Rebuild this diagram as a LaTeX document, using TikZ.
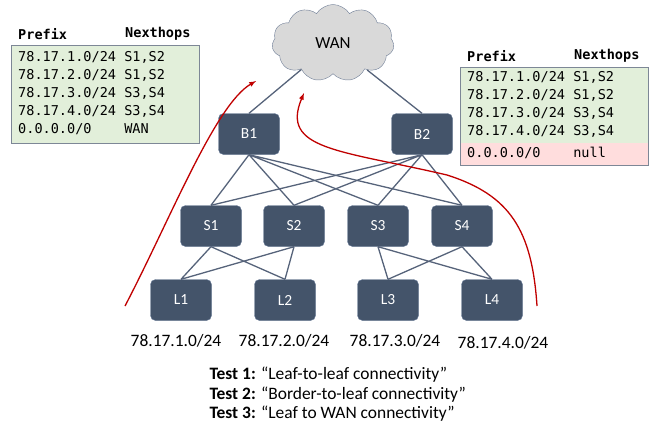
\documentclass[tikz,border=0pt]{standalone}
\usepackage{xcolor}
\usepackage{fontspec}
\usepackage{tikz}
\usetikzlibrary{shapes, arrows, fit, positioning}
\setmainfont{Carlito}
\newfontfamily\tabmono{DejaVu Sans Mono}
\definecolor{boxblue}{RGB}{68,84,106}
\definecolor{boxedge}{RGB}{96,116,146}
\definecolor{linkgray}{RGB}{86,99,122}
\definecolor{tabgreen}{RGB}{226,239,218}
\definecolor{tabred}{RGB}{255,221,221}
\definecolor{tabedge}{RGB}{125,135,150}
\definecolor{cloudgray}{RGB}{217,217,217}
\definecolor{cloudedge}{RGB}{110,125,150}
\definecolor{pathred}{RGB}{192,0,0}
\newcommand{\routes}[1]{\begin{tabular}{@{}l@{\hskip 8.2bp}l@{}}#1\end{tabular}}

\begin{document}
\begin{tikzpicture}[x=1bp, y=-1bp,
  sw/.style={draw=boxedge, fill=boxblue, rounded corners=5bp, minimum width=61bp, minimum height=41bp, text=white, font=\fontsize{15.5}{18}\selectfont},
  link/.style={linkgray, line width=1.3bp},
  flow/.style={pathred, line width=1.3bp, -latex},
  tbl/.style={fill=tabgreen, anchor=north west, text width=174bp, align=left, inner xsep=7bp, font=\tabmono\fontsize{13.6}{18}\selectfont},
  hdr/.style={anchor=west, inner sep=0pt, font=\tabmono\bfseries\fontsize{13.6}{18}\selectfont},
  pfx/.style={font=\fontsize{17.5}{20}\selectfont}]
\useasboundingbox (0,0) rectangle (651,429);

%% WAN and border switches
\node[cloud, cloud puffs=11, cloud puff arc=115, aspect=1.6, draw=cloudedge, fill=cloudgray, minimum width=122bp, minimum height=77bp, font=\fontsize{17}{20}\selectfont] (wan) at (333,43) {WAN};
\node[sw] (b1) at (249,134) {B1};
\node[sw] (b2) at (422,134) {B2};

%% spines and leaves
\node[sw] (s1) at (211,226) {S1};
\node[sw] (s2) at (294,226) {S2};
\node[sw] (s3) at (378,226) {S3};
\node[sw] (s4) at (462,226) {S4};
\node[sw] (l1) at (181,300) {L1};
\node[sw] (l2) at (285,300) {L2};
\node[sw] (l3) at (388,300) {L3};
\node[sw] (l4) at (492,300) {L4};

\draw[link] (wan) -- (b1.north) (wan) -- (b2.north);
\draw[link] (b1.south) -- (s1.north) (b1.south) -- (s2.north) (b1.south) -- (s3.north) (b1.south) -- (s4.north);
\draw[link] (b2.south) -- (s1.north) (b2.south) -- (s2.north) (b2.south) -- (s3.north) (b2.south) -- (s4.north);
\draw[link] (s1.south) -- (l1.north) (s1.south) -- (l2.north) (s2.south) -- (l1.north) (s2.south) -- (l2.north);
\draw[link] (s3.south) -- (l3.north) (s3.south) -- (l4.north) (s4.south) -- (l3.north) (s4.south) -- (l4.north);

\node[pfx] (p1) at (176,341) {78.17.1.0/24};
\node[pfx] (p2) at (284,341) {78.17.2.0/24};
\node[pfx] (p3) at (395,341) {78.17.3.0/24};
\node[pfx] (p4) at (503,343) {78.17.4.0/24};

%% tables
\node[hdr] (lpfx) at (18,34) {Prefix};
\node[hdr] (lnh) at (125,34) {Nexthops};
\node[tbl, draw=tabedge, inner ysep=4bp] (ltab) at (11,45) {\routes{78.17.1.0/24 & S1,S2\\78.17.2.0/24 & S1,S2\\78.17.3.0/24 & S3,S4\\78.17.4.0/24 & S3,S4\\0.0.0.0/0 & WAN}};

\node[hdr] (rpfx) at (467,56) {Prefix};
\node[hdr] (rnh) at (574,56) {Nexthops};
\node[tbl, inner ysep=2bp] (rtab) at (460,67) {\routes{78.17.1.0/24 & S1,S2\\78.17.2.0/24 & S1,S2\\78.17.3.0/24 & S3,S4\\78.17.4.0/24 & S3,S4}};
\node[tbl, fill=tabred, inner ysep=2bp, anchor=north west] (rnull) at (rtab.south west) {\routes{0.0.0.0/0\phantom{000} & null}};
\node[draw=tabedge, inner sep=0pt, fit=(rtab)(rnull)] (rframe) {};

%% test paths
\coordinate (t1a) at (125,306);
\coordinate (t1b) at (256,81);
\draw[flow] (t1a) .. controls (170,220) and (215,105) .. (t1b);
\coordinate (t2a) at (537,306);
\coordinate (t2m) at (447,175);
\coordinate (t2b) at (304,93);
\draw[flow] (t2a) .. controls (532,230) and (510,195) .. (t2m) .. controls (340,150) and (280,150) .. (t2b);

\node[align=left, anchor=north west, font=\fontsize{17.5}{20}\selectfont] (tests) at (206,363) {\textbf{Test 1:} “Leaf-to-leaf connectivity”\\\textbf{Test 2:} “Border-to-leaf connectivity”\\\textbf{Test 3:} “Leaf to WAN connectivity”};
\end{tikzpicture}
\end{document}
